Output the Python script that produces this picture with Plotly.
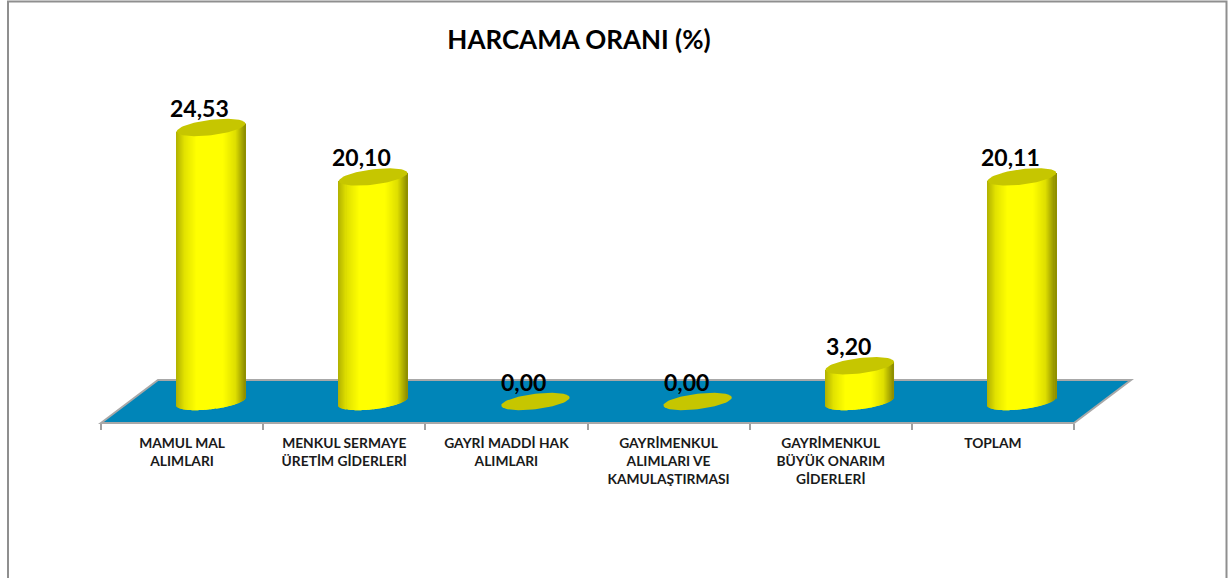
import math
import plotly.graph_objects as go

# ---- data ----
categories = ["MAMUL MAL<br>ALIMLARI", "MENKUL SERMAYE<br>ÜRETİM GİDERLERİ", "GAYRİ MADDİ HAK<br>ALIMLARI",
              "GAYRİMENKUL<br>ALIMLARI VE<br>KAMULAŞTIRMASI", "GAYRİMENKUL<br>BÜYÜK ONARIM<br>GİDERLERİ", "TOPLAM"]
values = [24.53, 20.10, 0.00, 0.00, 3.20, 20.11]
title_text = "HARCAMA ORANI (%)"

# ---- canvas geometry in pixels ----
W, H = 1230, 578
PX_PER_CAT = 162.2
PX_PER_UNIT = 11.17
ZERO_Y = 401.5
FRONT_Y, BACK_Y = 423, 380
FRONT_L, BACK_L = 101, 158
FRONT_R, BACK_R = 1074, 1131
TOP_Y = 60
MARK_L = 130
A_PX, B_PX, S_PX = 34.2, 7.7, 4.0

fx = lambda p: p / W
fy = lambda p: 1 - p / H

a = A_PX / PX_PER_CAT
b = B_PX / PX_PER_UNIT
s = S_PX / PX_PER_UNIT
depth_shift = (MARK_L - FRONT_L) / PX_PER_CAT


def shade(u):
    stops = [(-1.0, (176, 176, 0)), (-0.75, (226, 226, 0)), (-0.4, (255, 255, 0)), (0.35, (255, 255, 0)),
             (0.72, (222, 222, 0)), (1.0, (140, 140, 0))]
    for (u0, c0), (u1, c1) in zip(stops, stops[1:]):
        if u <= u1:
            k = (u - u0) / (u1 - u0)
            return "rgb(%d,%d,%d)" % tuple(round(c0[i] + (c1[i] - c0[i]) * k) for i in range(3))
    return "rgb(140,140,0)"


fig = go.Figure()
# Invisible trace that gives the category axis its categories.
fig.add_trace(go.Scatter(x=categories, y=[0] * len(categories), mode="none", showlegend=False,
                         hoverinfo="skip", xaxis="x", yaxis="y"))

N = 68
for i, v in enumerate(values):
    if v <= 0:
        continue
    us = [-1 + (2 * k + 1) / N for k in range(N)]
    xs = [i + a * u for u in us]
    bases = [s * u - b * math.sqrt(max(0, 1 - u * u)) for u in us]
    tops = [v + s * u for u in us]
    fig.add_trace(go.Bar(x=xs, y=[t - bs for t, bs in zip(tops, bases)], base=bases, width=2.4 * a / N,
                         marker=dict(color=[shade(u) for u in us], line=dict(width=0)),
                         showlegend=False, hoverinfo="skip", xaxis="x2", yaxis="y"))

for i, v in enumerate(values):
    ts = [2 * math.pi * k / 72 for k in range(73)]
    fig.add_trace(go.Scatter(x=[i + a * math.cos(t) for t in ts],
                             y=[v + s * math.cos(t) + b * math.sin(t) for t in ts],
                             mode="lines", fill="toself", fillcolor="#c6c600", line=dict(width=0, color="#c6c600"),
                             showlegend=False, hoverinfo="skip", xaxis="x2", yaxis="y"))

annotations = [dict(x=i, y=v, xref="x2", yref="y", text=f"{v:.2f}".replace(".", ","), showarrow=False,
                    xshift=-11.5, yshift=20, xanchor="center", yanchor="middle",
                    font=dict(family="Lato", size=23, color="#000000", weight="bold"))
               for i, v in enumerate(values)]

floor_path = (f"M {fx(FRONT_L)} {fy(FRONT_Y)} L {fx(BACK_L)} {fy(BACK_Y)} "
              f"L {fx(BACK_R)} {fy(BACK_Y)} L {fx(FRONT_R)} {fy(FRONT_Y)} Z")
shapes = [
    dict(type="rect", xref="paper", yref="paper", x0=fx(8), x1=fx(1226.5), y0=fy(1.5), y1=fy(640),
         line=dict(color="#8f8f8f", width=2), fillcolor="rgba(0,0,0,0)", layer="below"),
    dict(type="path", xref="paper", yref="paper", path=floor_path, fillcolor="#0085b8",
         line=dict(color="#a8a8a8", width=2), layer="below"),
]

fig.update_layout(
    width=W, height=H, autosize=False, showlegend=False, barmode="overlay",
    margin=dict(l=0, r=0, t=0, b=0, pad=0),
    paper_bgcolor="#ffffff", plot_bgcolor="rgba(0,0,0,0)",
    title=dict(text=title_text, x=579 / W, xanchor="center", xref="paper", y=fy(40), yref="paper", yanchor="middle",
               font=dict(family="Lato", size=26, color="#000000", weight="bold")),
    xaxis=dict(domain=[fx(FRONT_L), fx(FRONT_R)], type="category", categoryorder="array", categoryarray=categories,
               range=[-0.5, 5.5], tickson="boundaries", ticks="outside", ticklen=6, tickwidth=2, tickcolor="#a0a0a0",
               showline=False, showgrid=False, zeroline=False, tickangle=0, fixedrange=True, ticklabelstandoff=10,
               tickfont=dict(family="Lato", size=13.8, color="#1a1a1a", weight="bold"),
               anchor="y"),
    xaxis2=dict(range=[-0.5 - depth_shift, 5.5 - depth_shift], visible=False,
                overlaying="x", anchor="y", fixedrange=True),
    yaxis=dict(domain=[fy(FRONT_Y), fy(TOP_Y)], range=[(ZERO_Y - FRONT_Y) / PX_PER_UNIT, (ZERO_Y - TOP_Y) / PX_PER_UNIT],
               visible=False, fixedrange=True),
    annotations=annotations, shapes=shapes,
)
fig.write_html("out.html", config={"displayModeBar": False},
               post_script="document.body.style.margin='0';document.documentElement.style.overflow='hidden';")
